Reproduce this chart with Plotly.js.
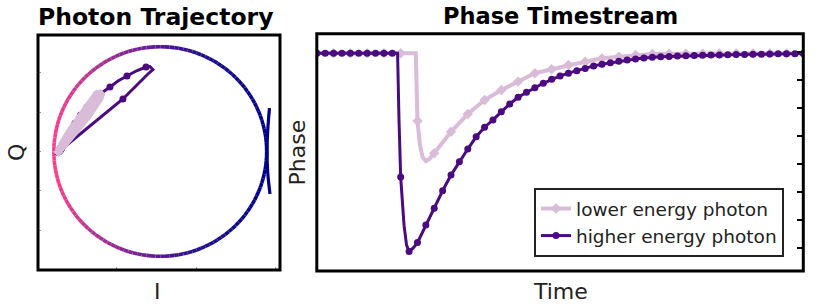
<!DOCTYPE html>
<html>
<head>
<meta charset="utf-8">
<script src="https://cdn.plot.ly/plotly-3.0.1.min.js"></script>
<style>
html,body{margin:0;padding:0;background:#fff;}
#chart{width:830px;height:306px;}
</style>
</head>
<body>
<div id="chart"></div>
<script>
// ---------- Phase timestream data (time in samples, phase in tick units) ----------
const hiT = [0,1,2,3,4,5,6,7,8,9,9.63,9.8,10,10.4,10.7,11,11.5,12,13,14,15,16,17,18,19,20,21,22,23,24,25,26,27,28,29,30,31,32,33,34,35,36,37,38,39,40,41,42,43,44,45,46,47,48,49,50,51,52,53,54,55,56,57,58];
const hiPhase = [0,0,0,0,0,0,0,0,0,0,0,-2.38,-4.42,-6.14,-6.85,-7.08,-6.95,-6.76,-6.13,-5.53,-4.91,-4.35,-3.87,-3.42,-2.98,-2.64,-2.38,-2.09,-1.81,-1.57,-1.39,-1.23,-1.07,-0.93,-0.81,-0.71,-0.62,-0.54,-0.45,-0.39,-0.34,-0.28,-0.24,-0.20,-0.17,-0.14,-0.12,-0.11,-0.10,-0.09,-0.08,-0.07,-0.065,-0.06,-0.05,-0.045,-0.04,-0.035,-0.03,-0.025,-0.02,-0.02,-0.015,-0.01];

const loT = [0,2,4,6,8,10,11.8,12,12.3,12.6,13,13.4,14,16,18,20,22,24,26,28,30,32,34,36,38,40,42,44,46,48,50,52,54,56,58];
const loPhase = [0,0,0,0,0,0,0,-2.42,-3.27,-3.70,-3.85,-3.78,-3.57,-2.80,-2.17,-1.67,-1.31,-1.01,-0.71,-0.57,-0.42,-0.30,-0.18,-0.12,-0.06,-0.025,-0.015,-0.012,-0.01,-0.008,-0.006,-0.005,-0.004,-0.003,-0.002];

// ---------- IQ trajectory data (unit = resonance-loop radius) ----------
const hiIQt = [0,1,2,3,4,5,6,7,8,9,9.63,10,10.5,11,11.5,12,13,14,15,16,17,18,19,20,21,22,23,24,25,26,27,28,29,30,31,32,33,34,35,36,38,40,42,44,46,48,50,54,58];
const hiI = [-0.959,-0.959,-0.959,-0.959,-0.959,-0.959,-0.959,-0.959,-0.959,-0.959,-0.959,-0.351,-0.116,-0.069,-0.097,-0.134,-0.228,-0.313,-0.398,-0.473,-0.543,-0.605,-0.655,-0.690,-0.719,-0.750,-0.777,-0.801,-0.817,-0.831,-0.845,-0.857,-0.868,-0.877,-0.886,-0.893,-0.899,-0.905,-0.911,-0.917,-0.924,-0.931,-0.935,-0.939,-0.942,-0.945,-0.948,-0.953,-0.959];
const hiQ = [-0.005,-0.005,-0.005,-0.005,-0.005,-0.005,-0.005,-0.005,-0.005,-0.005,-0.005,0.501,0.740,0.782,0.811,0.806,0.768,0.720,0.673,0.615,0.563,0.520,0.466,0.421,0.387,0.345,0.305,0.269,0.240,0.214,0.188,0.165,0.146,0.128,0.111,0.096,0.083,0.071,0.061,0.051,0.040,0.026,0.020,0.015,0.011,0.008,0.006,0.000,-0.005];

const loIQt = [0,2,4,6,8,10,11.8,12,12.5,13,14,16,18,20,22,24,26,28,30,32,34,36,40,58];
const loI = [-0.959,-0.959,-0.959,-0.959,-0.959,-0.959,-0.959,-0.684,-0.567,-0.548,-0.600,-0.688,-0.758,-0.810,-0.846,-0.877,-0.903,-0.917,-0.929,-0.938,-0.946,-0.950,-0.954,-0.959];
const loQ = [-0.005,-0.005,-0.005,-0.005,-0.005,-0.005,-0.005,0.329,0.506,0.563,0.549,0.433,0.332,0.255,0.198,0.149,0.105,0.080,0.057,0.039,0.024,0.013,0.003,-0.005];

// resonance loop (circle) and the off-resonance arc near I = 1
const loopCenter = [0, 0];
const loopRadius = 1;
const arcI = [1.026, 1.010, 1.003, 1.010, 1.031];
const arcQ = [0.415, 0.205, 0.0, -0.205, -0.406];

// loop colour along I (left = pink, right = navy)
const loopColorStops = [[0,[255,60,140]],[0.17,[184,52,143]],[0.45,[106,28,150]],[0.54,[74,20,148]],[0.68,[36,16,140]],[0.83,[16,12,138]],[1,[0,0,136]]];

const seriesNames = ['lower energy photon', 'higher energy photon'];
const loColor = '#d8bcd8';
const hiColor = '#4b0a80';
const navy = '#000088';

// ---------- helpers ----------
function loopColor(u){
  u = Math.max(0, Math.min(1, u));
  for (let i = 1; i < loopColorStops.length; i++){
    const [u1, c1] = loopColorStops[i];
    const [u0, c0] = loopColorStops[i-1];
    if (u <= u1){
      const f = (u - u0) / (u1 - u0);
      const c = c0.map((v, j) => Math.round(v + f * (c1[j] - v)));
      return 'rgb(' + c.join(',') + ')';
    }
  }
  return 'rgb(0,0,136)';
}
const W = 830, H = 306;
const px = v => v / W;
const py = v => 1 - v / H;

const traces = [];

// gradient loop drawn as short arc pieces
const NSEG = 144, SUB = 4;
for (let s = 0; s < NSEG; s++){
  const xs = [], ys = [];
  for (let j = 0; j <= SUB; j++){
    const a = 2 * Math.PI * (s + j / SUB) / NSEG;
    xs.push(loopCenter[0] + loopRadius * Math.cos(a));
    ys.push(loopCenter[1] + loopRadius * Math.sin(a));
  }
  const midI = loopCenter[0] + loopRadius * Math.cos(2 * Math.PI * (s + 0.5) / NSEG);
  traces.push({x: xs, y: ys, xaxis: 'x', yaxis: 'y', mode: 'lines', showlegend: false, hoverinfo: 'skip',
    line: {color: loopColor((midI + 1) / 2), width: 3.6}});
}
traces.push({x: arcI, y: arcQ, xaxis: 'x', yaxis: 'y', mode: 'lines', showlegend: false,
  line: {color: navy, width: 3.2, shape: 'spline'}});

const isMarked = (t, step) => Number.isInteger(t) && t % step === 0;

// IQ trajectories (higher drawn first, lower band on top)
traces.push({x: hiI, y: hiQ, xaxis: 'x', yaxis: 'y', mode: 'lines', showlegend: false,
  line: {color: hiColor, width: 3}});
traces.push({x: hiI.filter((v,i) => isMarked(hiIQt[i], 2)), y: hiQ.filter((v,i) => isMarked(hiIQt[i], 2)),
  xaxis: 'x', yaxis: 'y', mode: 'markers', showlegend: false,
  marker: {symbol: 'circle', size: 7, color: hiColor}});
traces.push({x: loI, y: loQ, xaxis: 'x', yaxis: 'y', mode: 'lines', showlegend: false,
  line: {color: loColor, width: 7}});
traces.push({x: loI.filter((v,i) => isMarked(loIQt[i], 2)), y: loQ.filter((v,i) => isMarked(loIQt[i], 2)),
  xaxis: 'x', yaxis: 'y', mode: 'markers', showlegend: false,
  marker: {symbol: 'diamond', size: 7, color: loColor}});

// Phase timestreams
traces.push({x: loT, y: loPhase, xaxis: 'x2', yaxis: 'y2', mode: 'lines', showlegend: false,
  line: {color: loColor, width: 4}});
traces.push({x: loT.filter(t => isMarked(t, 2)), y: loPhase.filter((v,i) => isMarked(loT[i], 2)),
  xaxis: 'x2', yaxis: 'y2', mode: 'markers', showlegend: false,
  marker: {symbol: 'diamond', size: 8, color: loColor}});
traces.push({x: hiT, y: hiPhase, xaxis: 'x2', yaxis: 'y2', mode: 'lines', showlegend: false,
  line: {color: hiColor, width: 3}});
traces.push({x: hiT.filter(t => isMarked(t, 1)), y: hiPhase.filter((v,i) => isMarked(hiT[i], 1)),
  xaxis: 'x2', yaxis: 'y2', mode: 'markers', showlegend: false,
  marker: {symbol: 'circle', size: 7, color: hiColor}});

// legend entries
traces.push({x: [null], y: [null], xaxis: 'x2', yaxis: 'y2', mode: 'lines+markers', name: seriesNames[0],
  line: {color: loColor, width: 4}, marker: {symbol: 'diamond', size: 8, color: loColor}});
traces.push({x: [null], y: [null], xaxis: 'x2', yaxis: 'y2', mode: 'lines+markers', name: seriesNames[1],
  line: {color: hiColor, width: 3}, marker: {symbol: 'circle', size: 7, color: hiColor}});

const font = 'DejaVu Sans, sans-serif';
const layout = {
  width: W, height: H,
  margin: {l: 0, r: 0, t: 0, b: 0, pad: 0},
  paper_bgcolor: '#fff', plot_bgcolor: '#fff',
  showlegend: true,
  legend: {x: px(534), y: py(188), xanchor: 'left', yanchor: 'top', bgcolor: '#fff',
    bordercolor: '#222', borderwidth: 2, font: {family: font, size: 18.5, color: '#222'},
    tracegroupgap: 0},
  xaxis: {domain: [px(38), px(280)], range: [-1.149, 1.125], showgrid: false, zeroline: false,
    showticklabels: false, ticks: 'inside', ticklen: 3, tickwidth: 1, tickcolor: '#999',
    tickmode: 'array', tickvals: [-0.407, 0.336, 1.078], showline: false, fixedrange: true},
  yaxis: {domain: [py(270), py(35)], range: [-1.131, 1.112], showgrid: false, zeroline: false,
    showticklabels: false, ticks: 'inside', ticklen: 3, tickwidth: 1, tickcolor: '#999',
    tickmode: 'array', tickvals: [-0.75, -0.37, 0, 0.37, 0.75], showline: false, fixedrange: true},
  xaxis2: {domain: [px(316.8), px(803.3)], range: [0, 58], showgrid: false, zeroline: false,
    showticklabels: false, ticks: '', showline: false, fixedrange: true},
  yaxis2: {domain: [py(271), py(33.8)], range: [(53.3 - 271) / 28, (53.3 - 33.8) / 28], showgrid: false, zeroline: false,
    showticklabels: false, side: 'right', anchor: 'x2', ticks: 'inside', ticklen: 6, tickwidth: 2, tickcolor: '#000',
    tickmode: 'array', tickvals: [0.05, -0.95, -1.95, -2.95, -3.95, -4.95, -5.95, -6.95], showline: false, fixedrange: true},
  shapes: [
    {type: 'rect', xref: 'paper', yref: 'paper', x0: px(38), x1: px(280), y0: py(270), y1: py(35),
      line: {color: '#000', width: 3}, fillcolor: 'rgba(0,0,0,0)', layer: 'above'},
    {type: 'rect', xref: 'paper', yref: 'paper', x0: px(316.8), x1: px(803.3), y0: py(271), y1: py(33.8),
      line: {color: '#000', width: 3}, fillcolor: 'rgba(0,0,0,0)', layer: 'above'}
  ],
  annotations: [
    {text: '<b>Photon Trajectory</b>', xref: 'paper', yref: 'paper', x: px(156), y: py(17), xanchor: 'center', yanchor: 'middle',
      showarrow: false, font: {family: font, size: 23.5, color: '#000'}},
    {text: '<b>Phase Timestream</b>', xref: 'paper', yref: 'paper', x: px(560), y: py(16), xanchor: 'center', yanchor: 'middle',
      showarrow: false, font: {family: font, size: 22.5, color: '#000'}},
    {text: 'Q', xref: 'paper', yref: 'paper', x: px(16), y: py(153), xanchor: 'center', yanchor: 'middle', textangle: -90,
      showarrow: false, font: {family: font, size: 22, color: '#222'}},
    {text: 'I', xref: 'paper', yref: 'paper', x: px(157), y: py(291), xanchor: 'center', yanchor: 'middle',
      showarrow: false, font: {family: font, size: 22, color: '#222'}},
    {text: 'Phase', xref: 'paper', yref: 'paper', x: px(297), y: py(152.5), xanchor: 'center', yanchor: 'middle', textangle: -90,
      showarrow: false, font: {family: font, size: 22, color: '#222'}},
    {text: 'Time', xref: 'paper', yref: 'paper', x: px(560), y: py(291), xanchor: 'center', yanchor: 'middle',
      showarrow: false, font: {family: font, size: 22, color: '#222'}}
  ]
};

Plotly.newPlot('chart', traces, layout, {staticPlot: true, displayModeBar: false});
</script>
</body>
</html>
